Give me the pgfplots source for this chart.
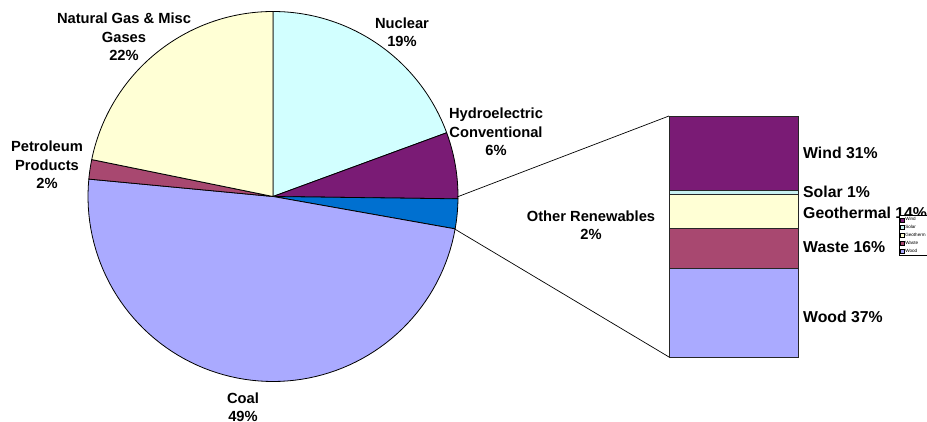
\documentclass[border=0pt]{standalone}
\usepackage{pgfplots}
\pgfplotsset{compat=1.18}
\usepackage{pgfplotstable}
\usepackage{fontspec}
\setmainfont{Liberation Sans}
\definecolor{cNuc}{RGB}{210,255,255}
\definecolor{cHyd}{RGB}{122,27,117}
\definecolor{cOth}{RGB}{0,112,208}
\definecolor{cCoal}{RGB}{170,170,255}
\definecolor{cPet}{RGB}{168,72,112}
\definecolor{cGas}{RGB}{255,255,213}
\definecolor{cSol}{RGB}{200,240,240}

\pgfplotstableread{
name share color
Nuclear 19.4 cNuc
Hydro 5.8 cHyd
Other 2.6 cOth
Coal 48.7 cCoal
Petroleum 1.7 cPet
Gas 21.8 cGas
}\piedata

\pgfplotstableread{
x wood waste geo solar wind
0 37.0 16.6 14.1 1.6 30.7
}\bardata

\newcommand\pielab{\fontsize{14.7}{18.5}\selectfont\bfseries}
\newcommand\barlab{\fontsize{15.8}{18}\selectfont\bfseries}

\begin{document}
\begin{tikzpicture}
\path[use as bounding box] (0,0) rectangle (927pt,421pt);
\begin{axis}[at={(0,0)}, anchor=south west, width=927pt, height=421pt, scale only axis,
  xmin=0, xmax=927, ymin=0, ymax=421, hide axis, clip=false]
\pgfmathsetmacro\astart{90}
\pgfplotsforeachungrouped \i in {0,...,5}{%
  \pgfplotstablegetelem{\i}{share}\of\piedata \let\s\pgfplotsretval
  \pgfplotstablegetelem{\i}{color}\of\piedata \let\c\pgfplotsretval
  \pgfmathsetmacro\aend{\astart-3.6*\s}%
  \edef\doslice{\noexpand\addplot[draw=black, line width=0.8pt, line join=round, fill=\c, domain=\aend:\astart, samples=80] ({273+185*cos(x)},{224.5+185*sin(x)}) -- (axis cs:273,224.5) -- cycle;}%
  \doslice
  \global\let\astart\aend
}
\addplot[black, line width=0.7pt] coordinates {(457,224) (669,305)};
\addplot[black, line width=0.7pt] coordinates {(453,193) (669,64)};
\node[align=center, font=\pielab] at (axis cs:124,384) {Natural Gas \& Misc\\Gases\\22\%};
\node[align=center, font=\pielab] at (axis cs:402,389) {Nuclear\\19\%};
\node[align=center, font=\pielab] at (axis cs:496,289) {Hydroelectric\\Conventional\\6\%};
\node[align=center, font=\pielab] at (axis cs:591,196) {Other Renewables\\2\%};
\node[align=center, font=\pielab] at (axis cs:47,256) {Petroleum\\Products\\2\%};
\node[align=center, font=\pielab] at (axis cs:243,14) {Coal\\49\%};
\node[anchor=west, inner sep=0pt, font=\barlab] at (axis cs:803,268) {Wind 31\%};
\node[anchor=west, inner sep=0pt, font=\barlab] at (axis cs:803,229) {Solar 1\%};
\node[anchor=west, inner sep=0pt, font=\barlab] at (axis cs:803,208) {Geothermal 14\%};
\node[anchor=west, inner sep=0pt, font=\barlab] at (axis cs:803,174) {Waste 16\%};
\node[anchor=west, inner sep=0pt, font=\barlab] at (axis cs:803,104) {Wood 37\%};
\end{axis}
\begin{axis}[at={(669pt,63.5pt)}, anchor=south west, width=129pt, height=241pt, scale only axis,
  ybar stacked, bar width=129pt, xmin=-0.5, xmax=0.5, ymin=0, ymax=100, hide axis, clip=false,
  reverse legend,
  legend style={at={(1.783,0.59)}, anchor=north west, draw=black, line width=0.3pt,
    font=\fontsize{4.6}{5}\selectfont, inner sep=1pt, row sep=1.5pt,
    nodes={inner sep=0.8pt}},
  legend cell align=left,
  legend image code/.code={\draw[#1, draw=black, line width=0.3pt] (0pt,-2pt) rectangle (4pt,2pt);}]
\addplot[fill=cCoal, draw=black!85, line width=0.7pt] table[x=x, y=wood] {\bardata};
\addplot[fill=cPet, draw=black!85, line width=0.7pt] table[x=x, y=waste] {\bardata};
\addplot[fill=cGas, draw=black!85, line width=0.7pt] table[x=x, y=geo] {\bardata};
\addplot[fill=cSol, draw=black!85, line width=0.7pt] table[x=x, y=solar] {\bardata};
\addplot[fill=cHyd, draw=black!85, line width=0.7pt] table[x=x, y=wind] {\bardata};
\legend{Wood,Waste,Geotherm,Solar,Wind}
\end{axis}
\end{tikzpicture}
\end{document}
